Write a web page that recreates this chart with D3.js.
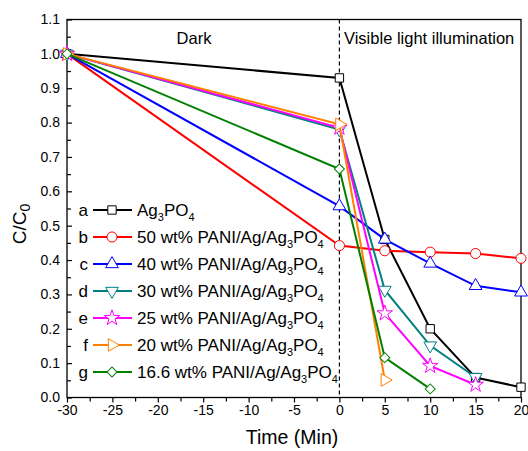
<!DOCTYPE html>
<html>
<head>
<meta charset="utf-8">
<script src="https://cdn.jsdelivr.net/npm/d3@7"></script>
<style>
	body { margin: 0; background: #fff; }
	svg { font-family: "Liberation Sans", Arial, sans-serif; display: block; }
</style>
</head>
<body>
<svg id="chart" width="528" height="451"></svg>
<script>
const times = [-30, 0, 5, 10, 15, 20];

const seriesA = [1.0, 0.93, 0.46, 0.2, 0.058, 0.03];
const seriesB = [1.0, 0.442, 0.427, 0.423, 0.419, 0.405];
const seriesC = [1.0, 0.557, 0.46, 0.39, 0.325, 0.306];
const seriesD = [1.0, 0.78, 0.313, 0.151, 0.059];
const seriesE = [1.0, 0.785, 0.245, 0.092, 0.037];
const seriesF = [1.0, 0.795, 0.051];
const seriesG = [1.0, 0.665, 0.116, 0.025];

const letters = ["a", "b", "c", "d", "e", "f", "g"];
const labels = ["", "50 wt% PANI/Ag/", "40 wt% PANI/Ag/", "30 wt% PANI/Ag/", "25 wt% PANI/Ag/", "20 wt% PANI/Ag/", "16.6 wt% PANI/Ag/"];
const colors = ["#000000", "#ff0000", "#0000ff", "#008080", "#ff00ff", "#ff8000", "#008000"];

const xTicks = [-30, -25, -20, -15, -10, -5, 0, 5, 10, 15, 20];
const yTicks = [0, 0.1, 0.2, 0.3, 0.4, 0.5, 0.6, 0.7, 0.8, 0.9, 1.0, 1.1];

const allSeries = [seriesA, seriesB, seriesC, seriesD, seriesE, seriesF, seriesG];

const margin = {top: 19.5, right: 7, bottom: 53.5, left: 67};
const width = 528;
const height = 451;

const svg = d3.select("#chart");

const x = d3.scaleLinear()
	.domain([-30, 20])
	.range([margin.left, width - margin.right]);

const y = d3.scaleLinear()
	.domain([0, 1.1])
	.range([height - margin.bottom, margin.top]);

// marker shapes: [symbol type, rotation, size]
const markers = [
	[d3.symbolSquare, 0, 70],
	[d3.symbolCircle, 0, 80],
	[d3.symbolTriangle, 0, 70],
	[d3.symbolTriangle, 180, 70],
	[d3.symbolStar, 0, 75],
	[d3.symbolTriangle, 90, 70],
	[d3.symbolSquare, 45, 50]
];

// frame
svg.append("rect")
	.attr("x", x(-30))
	.attr("y", y(1.1))
	.attr("width", x(20) - x(-30))
	.attr("height", y(0) - y(1.1))
	.attr("fill", "none")
	.attr("stroke", "#000")
	.attr("stroke-width", 1.3);

// x axis, ticks outward
const xAxis = svg.append("g")
	.attr("transform", `translate(0, ${y(0)})`)
	.call(d3.axisBottom(x).tickValues(xTicks).tickSize(5).tickPadding(3).tickFormat((d) => String(d)));

xAxis.append("g")
	.call(d3.axisBottom(x).tickValues(d3.range(-27.5, 20, 5)).tickSize(4).tickFormat(""));

// y axis, ticks inward
const yAxis = svg.append("g")
	.attr("transform", `translate(${x(-30)}, 0)`)
	.call(d3.axisRight(y).tickValues(yTicks).tickSize(5).tickFormat(""));

yAxis.append("g")
	.call(d3.axisRight(y).tickValues(d3.range(0.05, 1.1, 0.1)).tickSize(4).tickFormat(""));

yAxis.selectAll(".tick-label")
	.data(yTicks)
	.enter()
	.append("text")
	.attr("x", -7)
	.attr("y", (d) => y(d))
	.attr("dy", "0.35em")
	.attr("text-anchor", "end")
	.attr("font-size", 14)
	.attr("fill", "#000")
	.text(d3.format(".1f"));

svg.selectAll(".domain").remove();
svg.selectAll(".tick line").attr("stroke", "#000").attr("stroke-width", 1.2);
xAxis.selectAll(".tick text").attr("font-size", 14).attr("fill", "#000").attr("font-family", "Liberation Sans, Arial, sans-serif");

// axis titles
svg.append("text")
	.attr("x", 292)
	.attr("y", 444)
	.attr("text-anchor", "middle")
	.attr("font-size", 19.5)
	.text("Time (Min)");

const yTitle = svg.append("text")
	.attr("transform", `translate(26, 224) rotate(-90)`)
	.attr("text-anchor", "middle")
	.attr("font-size", 19);
yTitle.append("tspan").text("C/C");
yTitle.append("tspan").attr("font-size", 14).attr("dy", 4).text("0");

// dark / light separator
svg.append("line")
	.attr("x1", x(0))
	.attr("x2", x(0))
	.attr("y1", y(1.1))
	.attr("y2", y(0))
	.attr("stroke", "#000")
	.attr("stroke-width", 1.2)
	.attr("stroke-dasharray", "4,3");

svg.append("text")
	.attr("x", 194)
	.attr("y", 44)
	.attr("text-anchor", "middle")
	.attr("font-size", 16.5)
	.text("Dark");

svg.append("text")
	.attr("x", 344)
	.attr("y", 44)
	.attr("font-size", 16.5)
	.text("Visible light illumination");

const line = d3.line()
	.x((d) => x(d[0]))
	.y((d) => y(d[1]));

const markerPath = (i) => d3.symbol().type(markers[i][0]).size(markers[i][2])();

allSeries.forEach((values, i) => {
	const pts = values.map((v, j) => [times[j], v]);
	const g = svg.append("g");

	g.append("path")
		.datum(pts)
		.attr("d", line)
		.attr("fill", "none")
		.attr("stroke", colors[i])
		.attr("stroke-width", 2);

	g.selectAll(".mark")
		.data(pts)
		.enter()
		.append("path")
		.attr("d", markerPath(i))
		.attr("transform", (d) => `translate(${x(d[0])}, ${y(d[1])}) rotate(${markers[i][1]})`)
		.attr("fill", "#fff")
		.attr("stroke", colors[i])
		.attr("stroke-width", 1);
});

// legend
const legendY = (i) => 210 + i * 27;
const legend = svg.append("g");

letters.forEach((letter, i) => {
	const ly = legendY(i);

	legend.append("text")
		.attr("x", 88)
		.attr("y", ly)
		.attr("dy", "0.35em")
		.attr("text-anchor", "end")
		.attr("font-size", 17)
		.text(letter);

	legend.append("line")
		.attr("x1", 93)
		.attr("x2", 132)
		.attr("y1", ly)
		.attr("y2", ly)
		.attr("stroke", colors[i])
		.attr("stroke-width", 2);

	legend.append("path")
		.attr("d", markerPath(i))
		.attr("transform", `translate(112, ${ly}) rotate(${markers[i][1]})`)
		.attr("fill", "#fff")
		.attr("stroke", colors[i])
		.attr("stroke-width", 1);

	const t = legend.append("text")
		.attr("x", 137)
		.attr("y", ly)
		.attr("dy", "0.35em")
		.attr("font-size", 17);
	t.append("tspan").text(labels[i] + "Ag");
	t.append("tspan").attr("font-size", 11).attr("dy", 5).text("3");
	t.append("tspan").attr("dy", -5).text("PO");
	t.append("tspan").attr("font-size", 11).attr("dy", 5).text("4");
});
</script>
</body>
</html>
